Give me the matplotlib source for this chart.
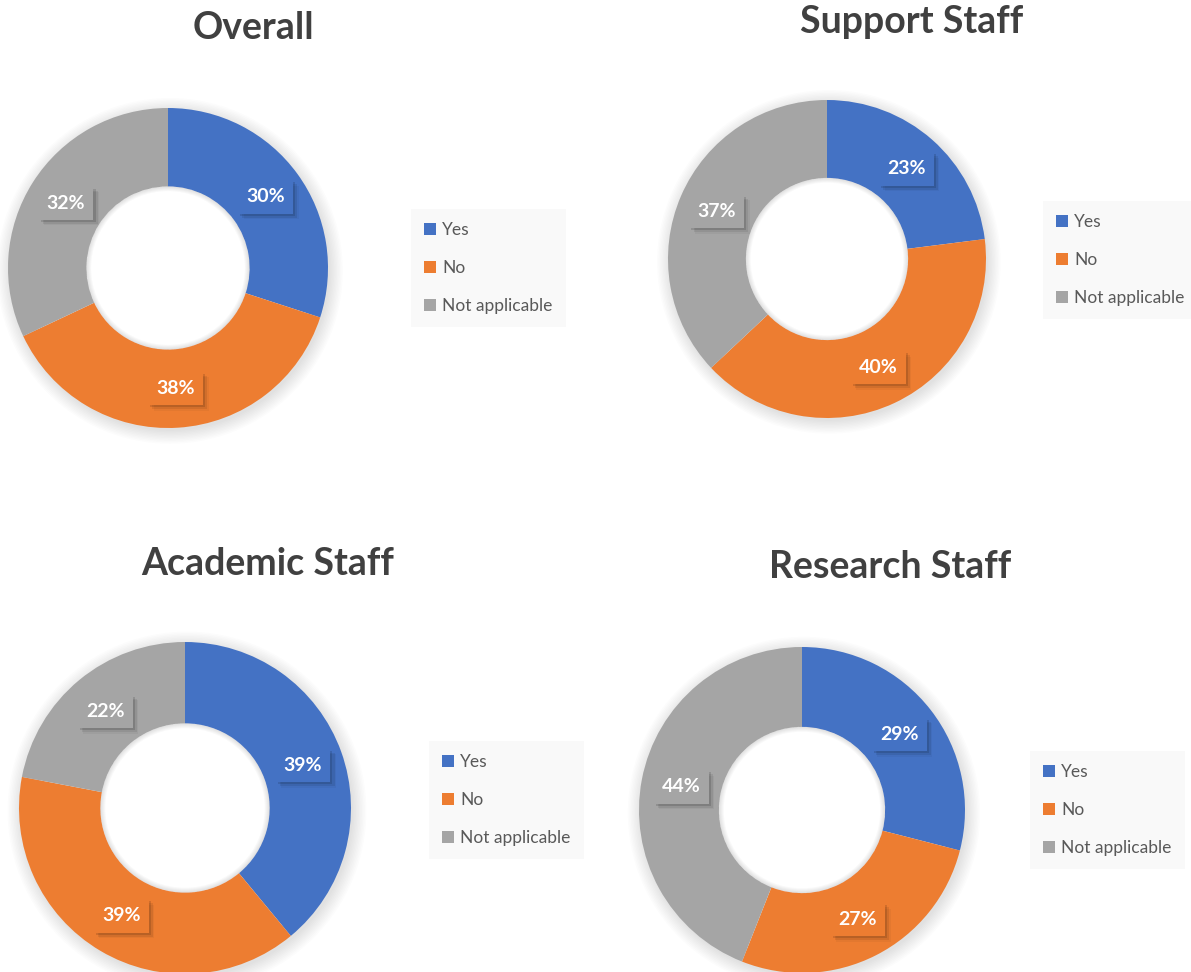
import matplotlib.pyplot as plt
import matplotlib.patheffects as pe
from matplotlib.patches import Wedge
import numpy as np

plt.rcParams['font.family'] = ['Lato', 'DejaVu Sans']

categories = ['Yes', 'No', 'Not applicable']
panel_titles = ['Overall', 'Support Staff', 'Academic Staff', 'Research Staff']
yes_pct = [30, 23, 39, 29]
no_pct = [38, 40, 39, 27]
na_pct = [32, 37, 22, 44]

colors = ['#4472C4', '#ED7D31', '#A5A5A5']

W, H = 1191, 972

# pixel layout: donut centre, outer radius, title centre, legend top-left
layout = [
    dict(c=(168, 268), r=160, t=(253, 28), leg=(411, 209)),
    dict(c=(827, 259), r=159, t=(912, 22), leg=(1043, 201)),
    dict(c=(185, 808), r=166, t=(268, 564), leg=(429, 741)),
    dict(c=(802, 810), r=163, t=(890, 567), leg=(1030, 751)),
]

fig = plt.figure(figsize=(W / 100, H / 100), dpi=100)
fig.patch.set_facecolor('white')

ext = 1.2
hole = 0.51
for i, title in enumerate(panel_titles):
    lay = layout[i]
    cx, cy = lay['c']
    r = lay['r']
    half = r * ext
    ax = fig.add_axes([(cx - half) / W, 1 - (cy + half) / H, 2 * half / W, 2 * half / H])
    vals = [yes_pct[i], no_pct[i], na_pct[i]]

    # soft shadow around the ring
    for k in range(10):
        rr = 1.0 + 0.009 * k
        ax.add_patch(Wedge((0.012, -0.018), rr, 0, 360, width=rr - 0.9, color='black',
                           alpha=0.012, lw=0, zorder=0))

    wedges, _ = ax.pie(vals, colors=colors, startangle=90, counterclock=False, radius=1.0,
                       wedgeprops=dict(width=1 - hole, edgecolor='none'))
    for w in wedges:
        w.set_zorder(2)

    # faint shadow on the hole edge
    for k in range(5):
        ax.add_patch(Wedge((0, 0), hole, 0, 360, width=0.006 * (k + 1), color='black',
                           alpha=0.025, lw=0, zorder=3))

    total = sum(vals)
    start = 90.0
    for v, col in zip(vals, colors):
        span = 360.0 * v / total
        mid = np.deg2rad(start - span / 2)
        start -= span
        t = ax.text(0.755 * np.cos(mid), 0.755 * np.sin(mid), f'{v}%', ha='center', va='center',
                    color='white', fontsize=14, fontweight='bold', zorder=5,
                    bbox=dict(boxstyle='square,pad=0.42', fc=col, ec='none'))
        t.get_bbox_patch().set_path_effects([
            pe.SimplePatchShadow(offset=(1.5, -1.5), shadow_rgbFace='black', alpha=0.12),
            pe.SimplePatchShadow(offset=(3, -3), shadow_rgbFace='black', alpha=0.08),
            pe.SimplePatchShadow(offset=(4, -4), shadow_rgbFace='black', alpha=0.04),
            pe.Normal()])

    ax.set_xlim(-ext, ext)
    ax.set_ylim(-ext, ext)
    ax.set_aspect('equal')
    ax.axis('off')

    tx, ty = lay['t']
    fig.text(tx / W, 1 - ty / H, title, ha='center', va='center', fontsize=27,
             fontweight='bold', color='#404040')

    lx, ly = lay['leg']
    leg = fig.legend(wedges, categories, loc='upper left', bbox_to_anchor=(lx / W, 1 - ly / H),
                     bbox_transform=fig.transFigure, fontsize=12.5, frameon=True, fancybox=False,
                     handlelength=0.7, handleheight=0.7, handletextpad=0.35,
                     labelspacing=1.28, borderpad=0.75, borderaxespad=0)
    leg.get_frame().set_facecolor('#F8F8F8')
    leg.get_frame().set_edgecolor('none')
    for txt in leg.get_texts():
        txt.set_color('#595959')

fig.savefig('out.png', dpi=100, facecolor='white')
